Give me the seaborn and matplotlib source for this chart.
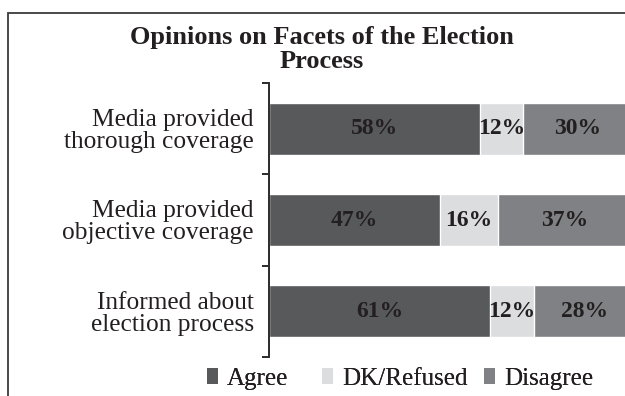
import numpy as np
import pandas as pd
import seaborn as sns
import matplotlib.pyplot as plt
from matplotlib.patches import Patch, Rectangle

# Survey items and response shares (%)
categories = ["Media provided\nthorough coverage",
              "Media provided\nobjective coverage",
              "Informed about\nelection process"]
agree = [58, 47, 61]
dk_refused = [12, 16, 12]
disagree = [30, 37, 28]
series_names = ["Agree", "DK/Refused", "Disagree"]
series_colors = ["#58595b", "#dcdddf", "#808184"]

title = "Opinions on Facets of the Election\nProcess"

sns.set_theme(style="white")
plt.rcParams["font.family"] = ["Liberation Serif", "DejaVu Serif"]

values = np.array([agree, dk_refused, disagree], dtype=float)
cumulative = np.cumsum(values, axis=0)
df = pd.DataFrame({"category": categories})
for name, cum in zip(series_names, cumulative):
    df[name] = cum

fig = plt.figure(figsize=(6.25, 3.96), dpi=100)
# Outer frame that runs off the right and bottom edges
fig.patches.append(Rectangle((8 / 625, -0.1), 1.0, 1 - 13 / 396 + 0.1,
                             transform=fig.transFigure, fill=False,
                             edgecolor="#3a3a3a", linewidth=1.3, zorder=0))

ax = fig.add_axes([269 / 625, 39 / 396, 363 / 625, 274 / 396])

# Stacked bars: draw cumulative totals from the outermost segment inwards
for name, color in reversed(list(zip(series_names, series_colors))):
    sns.barplot(data=df, x=name, y="category", orient="h", color=color,
                saturation=1, width=0.57, ax=ax, zorder=2)

# Segment labels centred in each piece
for i in range(len(series_names)):
    for j in range(len(categories)):
        center = cumulative[i, j] - values[i, j] / 2
        ax.text(center, j, f"{int(values[i, j])}%", ha="center", va="center",
                fontsize=17, fontweight="bold", color="#231f20", zorder=3)

ax.set_xlim(0, 100)
ax.set_ylim(2.5, -0.5)
ax.set_xlabel("")
ax.set_ylabel("")
ax.set_xticks([])
for side in ["top", "right", "bottom"]:
    ax.spines[side].set_visible(False)
ax.spines["left"].set_color("#2b2b2b")
ax.spines["left"].set_linewidth(1.4)
ax.set_yticks(range(len(categories)))
ax.set_yticklabels(categories, fontsize=18.3, color="#231f20", linespacing=1.0)
ax.tick_params(axis="y", which="major", length=0, pad=11)
ax.set_yticks([-0.5, 0.5, 1.5, 2.5], minor=True)
ax.tick_params(axis="y", which="minor", length=5, width=1.4, color="#2b2b2b",
               direction="out", left=True)
ax.set_facecolor("none")

fig.text(322 / 625, 1 - 26 / 396, title, ha="center", va="top",
         fontsize=19, fontweight="bold", color="#231f20", linespacing=1.08)

# One legend entry per series, placed along the bottom
legend_x = [207, 322, 484]
for name, color, x in zip(series_names, series_colors, legend_x):
    leg = fig.legend(handles=[Patch(facecolor=color, edgecolor="none", label=name)],
                     loc="center left", bbox_to_anchor=(x / 625, 1 - 379 / 396),
                     frameon=False, fontsize=18, handlelength=0.45, handleheight=0.6,
                     handletextpad=0.35, borderpad=0, borderaxespad=0,
                     labelcolor="#231f20")
    fig.add_artist(leg)

fig.savefig("out.png", dpi=100)
